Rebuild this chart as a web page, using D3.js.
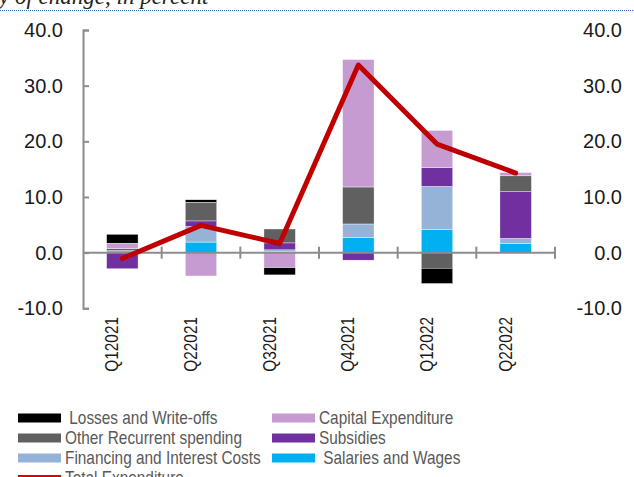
<!DOCTYPE html>
<html>
<head>
<meta charset="utf-8">
<script src="https://cdn.jsdelivr.net/npm/d3@7"></script>
<style>
    html, body { margin: 0; padding: 0; background: #fff; overflow: hidden; }
    svg { display: block; font-family: Arial, "Liberation Sans", sans-serif; }
</style>
</head>
<body>
<div id="chart"></div>
<script>
const quarters = ['Q12021', 'Q22021', 'Q32021', 'Q42021', 'Q12022', 'Q22022'];

// stacked components, bottom of the stack first
const salaries = [0.0, 1.9, 0.2, 2.7, 4.2, 1.65];
const financing = [0.35, 2.8, 0.3, 2.45, 7.7, 0.9];
const subsidies = [-2.9, 1.0, 1.25, -1.35, 3.4, 8.4];
const otherRecurrent = [0.35, 3.35, 2.5, 6.65, -2.8, 2.85];
const capitalExpenditure = [1.0, -4.2, -2.7, 22.9, 6.65, 0.6];
const lossesWriteOffs = [1.6, 0.45, -1.3, 0, -2.75, 0];

const totalExpenditure = [-1.05, 4.9, 1.65, 33.7, 19.5, 14.3];

const yTicks = [-10, 0, 10, 20, 30, 40];

const series = [
    { key: 'salaries', name: ' Salaries and Wages', values: salaries, color: '#00B0F0' },
    { key: 'financing', name: 'Financing and Interest Costs', values: financing, color: '#95B3D7' },
    { key: 'subsidies', name: 'Subsidies', values: subsidies, color: '#7030A0' },
    { key: 'other', name: 'Other Recurrent spending', values: otherRecurrent, color: '#606060' },
    { key: 'capex', name: 'Capital Expenditure', values: capitalExpenditure, color: '#C69BD2' },
    { key: 'losses', name: ' Losses and Write-offs', values: lossesWriteOffs, color: '#000000' }
];

const width = 634, height = 477;
const axisColor = '#8c8c8c';
// the reference text is a bit condensed compared with Arial
const squeeze = 0.855;

function drawChart() {
    const svg = d3.select('#chart').append('svg')
        .attr('width', width)
        .attr('height', height);

    // clipped heading above the chart
    svg.append('text')
        .attr('x', -1)
        .attr('y', 4)
        .attr('font-family', '"Liberation Serif", "Times New Roman", serif')
        .attr('font-style', 'italic')
        .attr('font-size', 23)
        .attr('fill', '#222')
        .text('y of change, in percent');

    svg.append('line')
        .attr('x1', 0).attr('x2', width)
        .attr('y1', 10.5).attr('y2', 10.5)
        .attr('stroke', '#3f63b5')
        .attr('stroke-width', 1)
        .attr('stroke-dasharray', '1,1');

    const x = d3.scaleBand()
        .domain(quarters)
        .range([83, 555])
        .paddingInner(0.6)
        .paddingOuter(0.3);

    const y = d3.scaleLinear()
        .domain([-10, 40])
        .range([308.3, 30]);

    const rows = quarters.map((q, i) => {
        const row = { quarter: q };
        series.forEach(s => { row[s.key] = s.values[i]; });
        return row;
    });

    const stack = d3.stack()
        .keys(series.map(s => s.key))
        .offset(d3.stackOffsetDiverging);

    const layers = stack(rows);

    svg.append('g')
        .selectAll('g')
        .data(layers)
        .join('g')
        .attr('fill', (d, i) => series[i].color)
        .selectAll('rect')
        .data(d => d)
        .join('rect')
        .attr('x', d => x(d.data.quarter))
        .attr('width', x.bandwidth())
        .attr('y', d => y(Math.max(d[0], d[1])))
        .attr('height', d => Math.abs(y(d[0]) - y(d[1])))
        .attr('stroke', '#fff')
        .attr('stroke-width', 0.4);

    // left axis: line with inward ticks
    const left = svg.append('g')
        .attr('transform', 'translate(83,0)')
        .call(d3.axisRight(y).tickValues(yTicks).tickSize(6).tickFormat(''));
    left.select('.domain').attr('stroke', axisColor).attr('stroke-width', 2);
    left.selectAll('.tick line').attr('stroke', axisColor).attr('stroke-width', 2);

    const labelFont = 20;
    svg.append('g')
        .selectAll('text')
        .data(yTicks)
        .join('text')
        .attr('x', 63)
        .attr('y', d => y(d) + 7)
        .attr('text-anchor', 'end')
        .attr('font-size', labelFont)
        .attr('fill', '#1a1a1a')
        .text(d => d.toFixed(1));

    svg.append('g')
        .selectAll('text')
        .data(yTicks)
        .join('text')
        .attr('x', 622)
        .attr('y', d => y(d) + 7)
        .attr('text-anchor', 'end')
        .attr('font-size', labelFont)
        .attr('fill', '#1a1a1a')
        .text(d => d.toFixed(1));

    // category axis along zero with crossing ticks between bands
    const zeroY = y(0);
    svg.append('line')
        .attr('x1', 83).attr('x2', 555)
        .attr('y1', zeroY).attr('y2', zeroY)
        .attr('stroke', axisColor)
        .attr('stroke-width', 2);

    const step = x.step();
    svg.append('g')
        .selectAll('line')
        .data(d3.range(1, quarters.length + 1))
        .join('line')
        .attr('x1', i => 83 + i * step)
        .attr('x2', i => 83 + i * step)
        .attr('y1', zeroY - 6)
        .attr('y2', zeroY + 6)
        .attr('stroke', axisColor)
        .attr('stroke-width', 2);

    svg.append('g')
        .selectAll('text')
        .data(quarters)
        .join('text')
        .attr('transform', d => `translate(${x(d) + x.bandwidth() / 2 - 4},317) rotate(-90) scale(${squeeze},1)`)
        .attr('text-anchor', 'end')
        .attr('font-size', 18)
        .attr('fill', '#1a1a1a')
        .text(d => d);

    const line = d3.line()
        .x((d, i) => x(quarters[i]) + x.bandwidth() / 2)
        .y(d => y(d));

    svg.append('path')
        .datum(totalExpenditure)
        .attr('d', line)
        .attr('fill', 'none')
        .attr('stroke', '#C00000')
        .attr('stroke-width', 5)
        .attr('stroke-linejoin', 'round')
        .attr('stroke-linecap', 'round');

    drawLegend(svg);
}

function drawLegend(svg) {
    const byKey = k => series.find(s => s.key === k);
    const items = [
        { s: byKey('losses'), col: 0, row: 0 },
        { s: byKey('other'), col: 0, row: 1 },
        { s: byKey('financing'), col: 0, row: 2 },
        { s: byKey('capex'), col: 1, row: 0 },
        { s: byKey('subsidies'), col: 1, row: 1 },
        { s: byKey('salaries'), col: 1, row: 2 }
    ];
    const colX = [18, 272];
    const rowY = [418, 438, 458, 478];

    const g = svg.append('g').attr('font-size', 18).attr('fill', '#595959');

    const label = (tx, ty, str) => g.append('text')
        .attr('transform', `translate(${tx},${ty}) scale(${squeeze},1)`)
        .attr('xml:space', 'preserve')
        .style('white-space', 'pre')
        .text(str);

    items.forEach(it => {
        g.append('rect')
            .attr('x', colX[it.col])
            .attr('y', rowY[it.row] - 4.5)
            .attr('width', 43)
            .attr('height', 9)
            .attr('fill', it.s.color);
        label(colX[it.col] + 47, rowY[it.row] + 6, it.s.name);
    });

    g.append('line')
        .attr('x1', colX[0]).attr('x2', colX[0] + 43)
        .attr('y1', rowY[3] - 1.5).attr('y2', rowY[3] - 1.5)
        .attr('stroke', '#E00000')
        .attr('stroke-width', 3);
    label(colX[0] + 47, rowY[3] + 6, 'Total Expenditure');
}

document.addEventListener('DOMContentLoaded', drawChart);
</script>
</body>
</html>
